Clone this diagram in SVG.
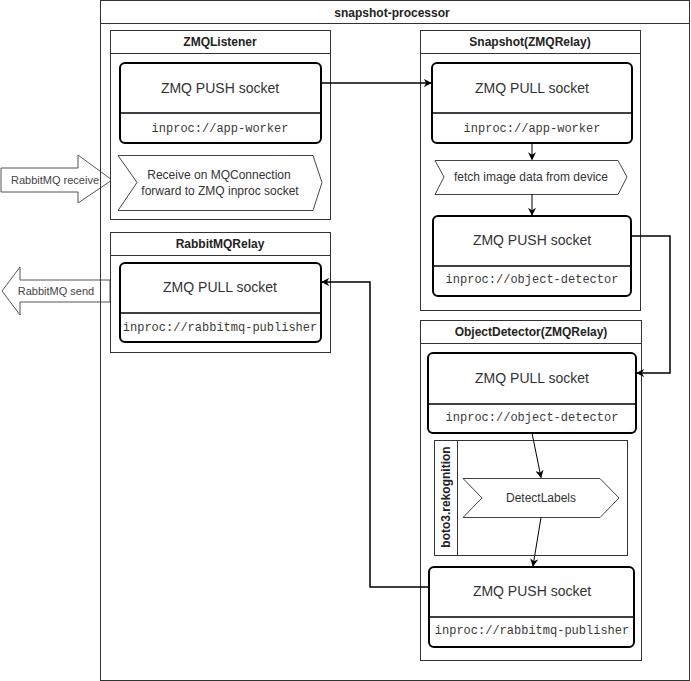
<svg xmlns="http://www.w3.org/2000/svg" width="691" height="681" viewBox="0 0 691 681">
<defs>
<style>
.cont{fill:#fff;stroke:#333;stroke-width:1}
.line{fill:none;stroke:#333;stroke-width:1}
.sock{fill:#fff;stroke:#000;stroke-width:2}
.div{stroke:#000;stroke-width:1.5}
.step{fill:#fff;stroke:#444;stroke-width:1}
.big{fill:#fff;stroke:#555;stroke-width:1}
.title{font-family:"Liberation Sans",Arial,sans-serif;font-size:12px;font-weight:bold;fill:#222;text-anchor:middle}
.lbl{font-family:"Liberation Sans",Arial,sans-serif;font-size:14px;fill:#333;text-anchor:middle}
.mono{font-family:"Liberation Mono","Courier New",monospace;font-size:12px;fill:#3a3a3a;text-anchor:middle}
.small{font-family:"Liberation Sans",Arial,sans-serif;font-size:12px;fill:#333;text-anchor:middle}
.arr{font-family:"Liberation Sans",Arial,sans-serif;font-size:11px;fill:#444;text-anchor:middle}
.conn{fill:none;stroke:#000;stroke-width:1.5}
.thin{fill:none;stroke:#000;stroke-width:1}
</style>
<marker id="ah" viewBox="0 0 10 10" refX="9" refY="5" markerWidth="8" markerHeight="8" markerUnits="userSpaceOnUse" orient="auto">
<path d="M0,0 L10,5 L0,10 L3,5 Z" fill="#000"/>
</marker>
<marker id="ahs" viewBox="0 0 10 10" refX="9" refY="5" markerWidth="8" markerHeight="8" markerUnits="userSpaceOnUse" orient="auto">
<path d="M0,0 L10,5 L0,10 L3,5 Z" fill="#000"/>
</marker>
</defs>

<g id="snapshot-processor">
<rect class="cont" x="100.5" y="0.5" width="589" height="680"/>
</g>

<g id="rabbitmq-receive">
<path class="big" d="M1,168 L78,168 L78,155 L112,180 L78,203 L78,192 L1,192 Z"/>
<text class="arr" x="55" y="184">RabbitMQ receive</text>
</g>
<g id="rabbitmq-send">
<path class="big" d="M110,280 L20,280 L20,267 L2,291 L20,315 L20,302 L110,302 Z"/>
<text class="arr" x="56" y="295">RabbitMQ send</text>
</g>

<g id="snapshot-processor-frame">
<rect x="100.5" y="0.5" width="589" height="680" fill="none" stroke="#333"/>
<line class="line" x1="100.5" y1="23.5" x2="689.5" y2="23.5"/>
<text class="title" x="392" y="17">snapshot-processor</text>
</g>

<g id="zmqlistener">
<rect class="cont" x="110.5" y="30.5" width="220" height="189"/>
<line class="line" x1="110.5" y1="53.5" x2="330.5" y2="53.5"/>
<text class="title" x="220" y="46">ZMQListener</text>
</g>
<g id="zmqlistener-push">
<rect class="sock" x="120" y="63" width="201" height="80" rx="5"/>
<line class="div" x1="120" y1="113" x2="321" y2="113"/>
<text class="lbl" x="220" y="93">ZMQ PUSH socket</text>
<text class="mono" x="220" y="132">inproc://app-worker</text>
</g>
<g id="zmqlistener-receive">
<path class="step" d="M118,155.5 L313,155.5 L322,182.5 L313,210.5 L118,210.5 L137,182.5 Z"/>
<text class="small" x="219" y="179">Receive on MQConnection</text>
<text class="small" x="220" y="195">forward to ZMQ inproc socket</text>
</g>

<g id="rabbitmqrelay">
<rect class="cont" x="110.5" y="232.5" width="220" height="120"/>
<line class="line" x1="110.5" y1="255.5" x2="330.5" y2="255.5"/>
<text class="title" x="220" y="248">RabbitMQRelay</text>
</g>
<g id="rabbitmqrelay-pull">
<rect class="sock" x="120" y="263" width="201" height="79" rx="5"/>
<line class="div" x1="120" y1="313" x2="321" y2="313"/>
<text class="lbl" x="220" y="292">ZMQ PULL socket</text>
<text class="mono" x="220" y="331">inproc://rabbitmq-publisher</text>
</g>

<g id="snapshot">
<rect class="cont" x="420.5" y="30.5" width="220" height="280"/>
<line class="line" x1="420.5" y1="53.5" x2="640.5" y2="53.5"/>
<text class="title" x="530" y="46">Snapshot(ZMQRelay)</text>
</g>
<g id="snapshot-pull">
<rect class="sock" x="432" y="63" width="200" height="80" rx="5"/>
<line class="div" x1="432" y1="113" x2="632" y2="113"/>
<text class="lbl" x="532" y="93">ZMQ PULL socket</text>
<text class="mono" x="532" y="132">inproc://app-worker</text>
</g>
<g id="snapshot-fetch">
<path class="step" d="M435,160.5 L618,160.5 L627,177 L618,194.5 L435,194.5 L444,177 Z"/>
<text class="small" x="531" y="181">fetch image data from device</text>
</g>
<g id="snapshot-push">
<rect class="sock" x="433" y="216" width="198" height="80" rx="5"/>
<line class="div" x1="433" y1="266" x2="631" y2="266"/>
<text class="lbl" x="532" y="245">ZMQ PUSH socket</text>
<text class="mono" x="532" y="283">inproc://object-detector</text>
</g>

<g id="objectdetector">
<rect class="cont" x="420.5" y="320.5" width="221" height="340"/>
<line class="line" x1="420.5" y1="343.5" x2="641.5" y2="343.5"/>
<text class="title" x="531" y="336">ObjectDetector(ZMQRelay)</text>
</g>
<g id="objectdetector-pull">
<rect class="sock" x="428" y="353" width="208" height="80" rx="5"/>
<line class="div" x1="428" y1="404" x2="636" y2="404"/>
<text class="lbl" x="532" y="383">ZMQ PULL socket</text>
<text class="mono" x="532" y="421">inproc://object-detector</text>
</g>
<g id="boto3-rekognition">
<rect class="cont" x="434.5" y="440.5" width="193" height="115"/>
<line class="line" x1="457.5" y1="440.5" x2="457.5" y2="555.5"/>
<text class="title" transform="translate(450,497) rotate(-90)">boto3.rekognition</text>
</g>
<g id="detectlabels">
<path class="step" d="M463,478.5 L600,478.5 L619,498 L600,517.5 L463,517.5 L482,498 Z"/>
<text class="small" x="541" y="502">DetectLabels</text>
</g>
<g id="objectdetector-push">
<rect class="sock" x="429" y="567" width="205" height="80" rx="5"/>
<line class="div" x1="429" y1="617" x2="634" y2="617"/>
<text class="lbl" x="532" y="596">ZMQ PUSH socket</text>
<text class="mono" x="532" y="634">inproc://rabbitmq-publisher</text>
</g>

<g id="connectors">
<path class="conn" d="M321,83 L431,83" marker-end="url(#ah)"/>
<path class="thin" d="M532,143 L532,159.5" marker-end="url(#ahs)"/>
<path class="thin" d="M532,194.5 L532,215" marker-end="url(#ahs)"/>
<path class="conn" d="M631,236 L670,236 L670,373 L637,373" marker-end="url(#ah)"/>
<path class="thin" d="M532,433 L541,477.5" marker-end="url(#ahs)"/>
<path class="thin" d="M541,517.5 L533,566" marker-end="url(#ahs)"/>
<path class="conn" d="M429,587 L370,587 L370,282 L322,282" marker-end="url(#ah)"/>
</g>
</svg>
